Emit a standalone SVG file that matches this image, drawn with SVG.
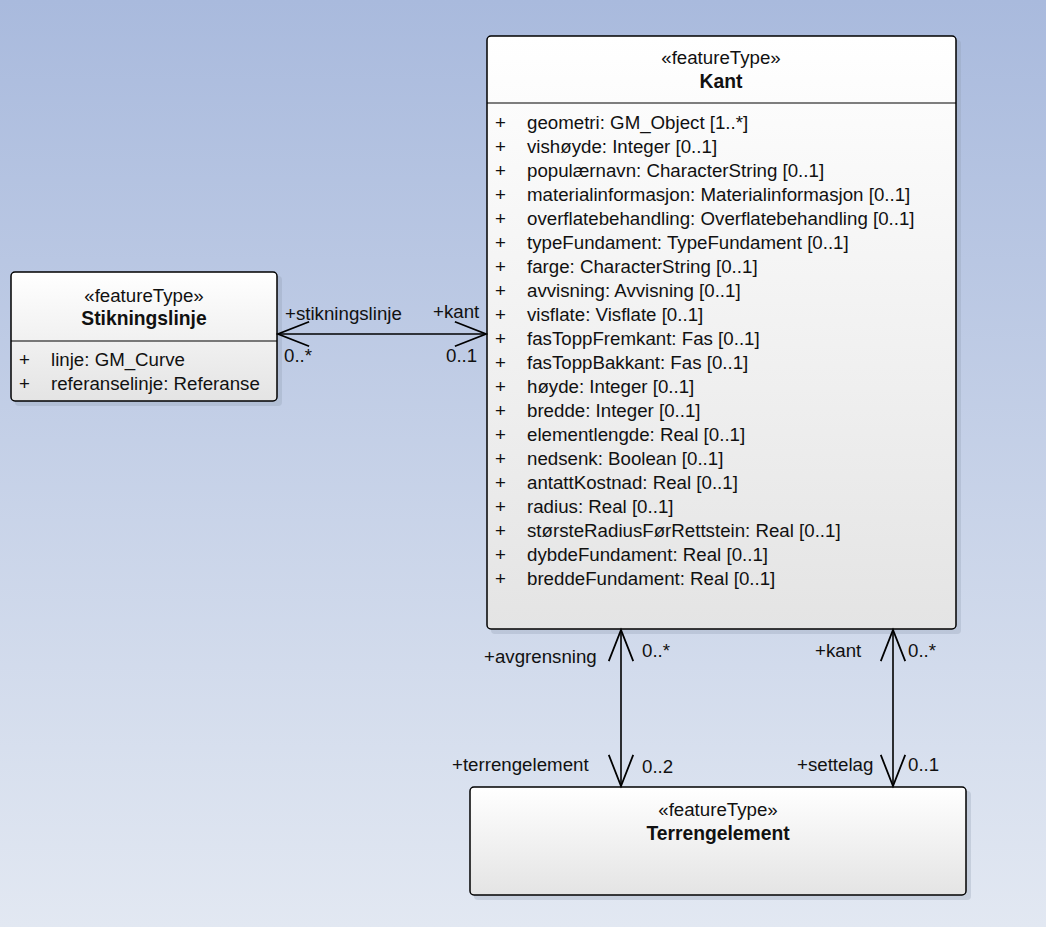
<svg xmlns="http://www.w3.org/2000/svg" width="1046" height="927" viewBox="0 0 1046 927">
<defs>
<linearGradient id="bg" x1="0" y1="0" x2="0" y2="1">
<stop offset="0" stop-color="#a9badd"/>
<stop offset="1" stop-color="#e2e8f2"/>
</linearGradient>
<linearGradient id="box" x1="0" y1="0" x2="0" y2="1">
<stop offset="0" stop-color="#ffffff"/>
<stop offset="1" stop-color="#e4e4e4"/>
</linearGradient>
<marker id="open" markerUnits="userSpaceOnUse" markerWidth="40" markerHeight="40" refX="0" refY="0" viewBox="-32 -16 36 32" orient="auto-start-reverse">
<path d="M-28,-11 L0,0 L-28,11" fill="none" stroke="#000" stroke-width="1.6"/>
</marker>
</defs>
<style>
.frame{fill:url(#box);stroke:#000;stroke-width:1.5}
.shadow{fill:#8f9ab0;opacity:0.3}
.div{stroke:#000;stroke-width:1.2}
text{font-family:"Liberation Sans",Arial,sans-serif;font-size:18.7px;fill:#111}
.st{text-anchor:middle}
.nm{text-anchor:middle;font-weight:bold;font-size:19.3px}
.at{fill:#222}
.conn{fill:none;stroke:#000;stroke-width:1.6;marker-start:url(#open);marker-end:url(#open)}
</style>
<rect width="1046" height="927" fill="url(#bg)"/>

<g id="Kant">
<rect class="shadow" x="491" y="40" width="470" height="594" rx="4"/>
<rect class="frame" x="487" y="36" width="469" height="593" rx="4"/>
<line class="div" x1="487" y1="103" x2="956" y2="103"/>
<text class="st" x="721" y="64">«featureType»</text>
<text class="nm" x="721" y="88">Kant</text>
<g class="at">
<text x="495" y="129">+</text><text x="527" y="129">geometri: GM_Object [1..*]</text>
<text x="495" y="153">+</text><text x="527" y="153">vishøyde: Integer [0..1]</text>
<text x="495" y="177">+</text><text x="527" y="177">populærnavn: CharacterString [0..1]</text>
<text x="495" y="201">+</text><text x="527" y="201">materialinformasjon: Materialinformasjon [0..1]</text>
<text x="495" y="225">+</text><text x="527" y="225">overflatebehandling: Overflatebehandling [0..1]</text>
<text x="495" y="249">+</text><text x="527" y="249">typeFundament: TypeFundament [0..1]</text>
<text x="495" y="273">+</text><text x="527" y="273">farge: CharacterString [0..1]</text>
<text x="495" y="297">+</text><text x="527" y="297">avvisning: Avvisning [0..1]</text>
<text x="495" y="321">+</text><text x="527" y="321">visflate: Visflate [0..1]</text>
<text x="495" y="345">+</text><text x="527" y="345">fasToppFremkant: Fas [0..1]</text>
<text x="495" y="369">+</text><text x="527" y="369">fasToppBakkant: Fas [0..1]</text>
<text x="495" y="393">+</text><text x="527" y="393">høyde: Integer [0..1]</text>
<text x="495" y="417">+</text><text x="527" y="417">bredde: Integer [0..1]</text>
<text x="495" y="441">+</text><text x="527" y="441">elementlengde: Real [0..1]</text>
<text x="495" y="465">+</text><text x="527" y="465">nedsenk: Boolean [0..1]</text>
<text x="495" y="489">+</text><text x="527" y="489">antattKostnad: Real [0..1]</text>
<text x="495" y="513">+</text><text x="527" y="513">radius: Real [0..1]</text>
<text x="495" y="537">+</text><text x="527" y="537">størsteRadiusFørRettstein: Real [0..1]</text>
<text x="495" y="561">+</text><text x="527" y="561">dybdeFundament: Real [0..1]</text>
<text x="495" y="585">+</text><text x="527" y="585">breddeFundament: Real [0..1]</text>
</g>
</g>

<g id="Stikningslinje">
<rect class="shadow" x="15" y="276" width="267" height="130" rx="4"/>
<rect class="frame" x="11" y="272" width="266" height="129" rx="4"/>
<line class="div" x1="11" y1="341" x2="277" y2="341"/>
<text class="st" x="144" y="302">«featureType»</text>
<text class="nm" x="144" y="325">Stikningslinje</text>
<g class="at">
<text x="19" y="366">+</text><text x="51" y="366">linje: GM_Curve</text>
<text x="19" y="390">+</text><text x="51" y="390">referanselinje: Referanse</text>
</g>
</g>

<g id="Terrengelement">
<rect class="shadow" x="474" y="791" width="497" height="109" rx="4"/>
<rect class="frame" x="470" y="787" width="496" height="108" rx="4"/>
<text class="st" x="718" y="816">«featureType»</text>
<text class="nm" x="718" y="840">Terrengelement</text>
</g>

<g id="connectors">
<line class="conn" x1="278" y1="334" x2="486" y2="334"/>
<line class="conn" x1="621" y1="630" x2="621" y2="786"/>
<line class="conn" x1="893" y1="630" x2="893" y2="786"/>
<text x="285" y="320">+stikningslinje</text>
<text x="284" y="362">0..*</text>
<text x="433" y="318">+kant</text>
<text x="446" y="362">0..1</text>
<text x="484" y="663">+avgrensning</text>
<text x="642" y="657">0..*</text>
<text x="452" y="771">+terrengelement</text>
<text x="642" y="773">0..2</text>
<text x="815" y="657">+kant</text>
<text x="908" y="657">0..*</text>
<text x="797" y="771">+settelag</text>
<text x="908" y="771">0..1</text>
</g>
</svg>
